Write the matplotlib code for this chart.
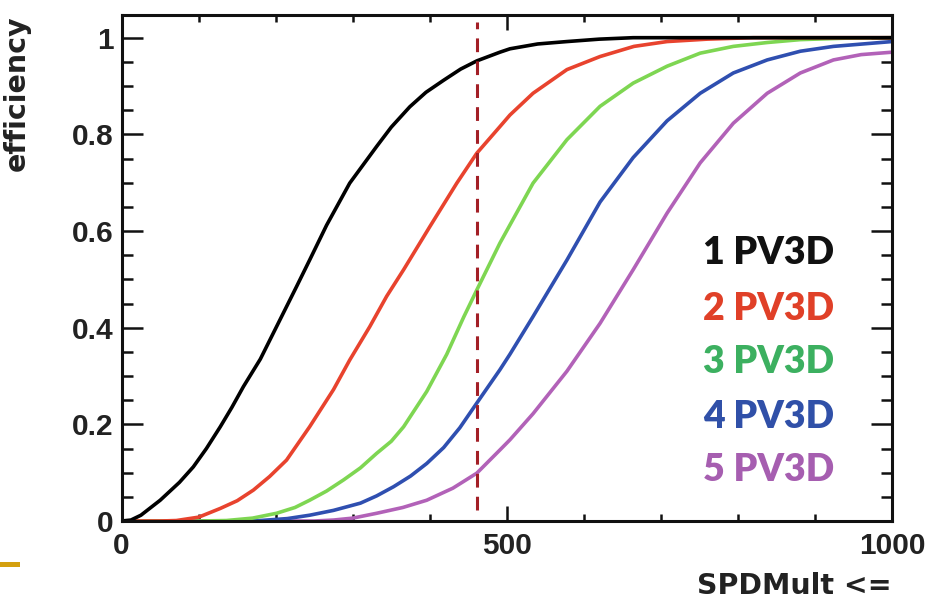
import matplotlib.pyplot as plt
from matplotlib.lines import Line2D
from matplotlib.ticker import MultipleLocator

# efficiency vs. SPDMult cut, one curve per number of PV3D
spd_1pv = [0, 12, 25, 50, 75, 93, 110, 128, 143, 158, 180, 201, 227, 244, 266,
           296, 331, 350, 374, 395, 418, 440, 461, 491, 504, 540, 578, 620, 664, 1000]
eff_1pv = [0.0, 0.002, 0.012, 0.043, 0.080, 0.112, 0.150, 0.195, 0.235, 0.278,
           0.335, 0.402, 0.485, 0.540, 0.612, 0.699, 0.775, 0.815, 0.857, 0.887,
           0.912, 0.935, 0.952, 0.970, 0.977, 0.987, 0.992, 0.997, 1.0, 1.0]

spd_2pv = [0, 50, 71, 100, 128, 150, 171, 192, 214, 244, 275, 296, 322, 344, 366,
           400, 435, 461, 491, 504, 534, 578, 621, 665, 708, 760, 820, 1000]
eff_2pv = [0.0, 0.0, 0.001, 0.008, 0.026, 0.042, 0.064, 0.092, 0.126, 0.195,
           0.272, 0.333, 0.402, 0.465, 0.520, 0.609, 0.699, 0.761, 0.816, 0.840,
           0.885, 0.934, 0.961, 0.982, 0.992, 0.997, 1.0, 1.0]

spd_3pv = [0, 100, 136, 170, 201, 225, 244, 266, 288, 310, 331, 350, 366, 396,
           422, 444, 461, 491, 534, 578, 621, 664, 708, 751, 794, 838, 881, 940, 1000]
eff_3pv = [0.0, 0.0, 0.001, 0.006, 0.016, 0.028, 0.043, 0.062, 0.085, 0.110,
           0.140, 0.165, 0.195, 0.268, 0.345, 0.422, 0.478, 0.575, 0.699, 0.789,
           0.858, 0.906, 0.941, 0.968, 0.982, 0.990, 0.996, 0.999, 1.0]

spd_4pv = [0, 150, 180, 215, 244, 275, 310, 331, 353, 375, 396, 418, 439, 461,
           491, 504, 534, 578, 621, 664, 708, 751, 794, 838, 881, 924, 1000]
eff_4pv = [0.0, 0.0, 0.001, 0.005, 0.012, 0.022, 0.037, 0.052, 0.071, 0.093,
           0.119, 0.152, 0.193, 0.244, 0.313, 0.345, 0.423, 0.540, 0.660, 0.752,
           0.828, 0.885, 0.927, 0.954, 0.972, 0.982, 0.992]

spd_5pv = [0, 250, 275, 300, 331, 365, 396, 430, 461, 491, 504, 534, 578, 621,
           664, 708, 751, 794, 838, 881, 924, 960, 1000]
eff_5pv = [0.0, 0.0, 0.002, 0.006, 0.016, 0.028, 0.043, 0.068, 0.099, 0.147,
           0.168, 0.222, 0.310, 0.409, 0.520, 0.637, 0.741, 0.823, 0.885, 0.927,
           0.954, 0.965, 0.970]

labels = ['1 PV3D', '2 PV3D', '3 PV3D', '4 PV3D', '5 PV3D']
cut_value = 461

line_colors = ['#000000', '#e8432e', '#7ed652', '#2f4fb0', '#b262b8']
text_colors = ['#111111', '#e04028', '#3cb060', '#3050a8', '#a65eb0']

fig = plt.figure(figsize=(9.26, 5.99), dpi=100)
ax = fig.add_axes([0.1314, 0.1302, 0.8319, 0.8448])

curves = [(spd_1pv, eff_1pv), (spd_2pv, eff_2pv), (spd_3pv, eff_3pv),
          (spd_4pv, eff_4pv), (spd_5pv, eff_5pv)]
for (xs, ys), col in reversed(list(zip(curves, line_colors))):
    ax.plot(xs, ys, color=col, lw=2.6, solid_joinstyle='round')

ax.plot([cut_value, cut_value], [0.023, 1.033], color='#a31f26', lw=2.2,
        dashes=(4.5, 3.0))

ax.set_xlim(0, 1000)
ax.set_ylim(0, 1.047)

ax.xaxis.set_minor_locator(MultipleLocator(100))
ax.yaxis.set_minor_locator(MultipleLocator(0.05))
ax.set_yticks([0, 0.2, 0.4, 0.6, 0.8, 1.0])
ax.set_yticklabels(['0', '0.2', '0.4', '0.6', '0.8', '1'])
ax.set_xticks([0, 500, 1000])
ax.set_xticklabels(['0', '500', '1000'])

tick_font = dict(family='Liberation Sans', weight='bold', size=21.5)
for lab in ax.get_xticklabels() + ax.get_yticklabels():
    lab.set_fontproperties(tick_font)
    lab.set_color('#222222')

ax.tick_params(axis='both', which='both', direction='in', top=True, right=True,
               width=1.8, color='#111111')
ax.tick_params(axis='x', which='major', length=10.5, pad=8)
ax.tick_params(axis='x', which='minor', length=5)
ax.tick_params(axis='y', which='major', length=15, pad=6)
ax.tick_params(axis='y', which='minor', length=8)

for sp in ax.spines.values():
    sp.set_linewidth(2.2)
    sp.set_color('#111111')

ax.set_xlabel('SPDMult <=', loc='right', family='DejaVu Sans', weight='bold',
              fontsize=20.5, color='#222222')
ax.set_ylabel('efficiency', loc='top', family='DejaVu Sans', weight='bold',
              fontsize=20.5, color='#222222')
ax.xaxis.set_label_coords(1.0, -0.10)
ax.yaxis.set_label_coords(-0.118, 1.0)

label_y = [0.530, 0.419, 0.314, 0.206, 0.101]
for txt, col, yy in zip(labels, text_colors, label_y):
    ax.text(0.755, yy, txt, transform=ax.transAxes, color=col, fontsize=27,
            family='Lato', weight='heavy', ha='left', va='center')

# small slide-template accent at the lower left
fig.add_artist(Line2D([0, 0.018], [0.0576, 0.0576], color='#d4a00f', lw=3.6,
                      transform=fig.transFigure))

fig.savefig('out.png', dpi=100)
